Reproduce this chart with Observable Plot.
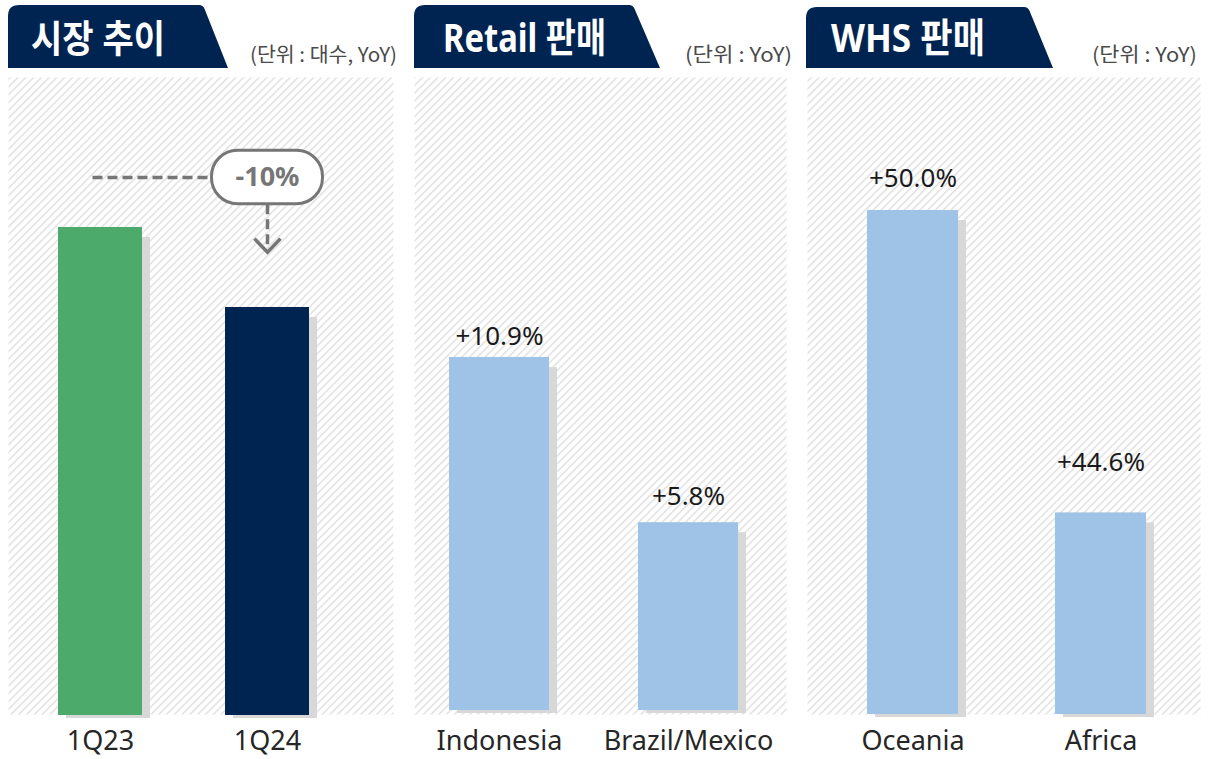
<!DOCTYPE html>
<html>
<head>
<meta charset="utf-8">
<script src="https://cdn.jsdelivr.net/npm/d3@7"></script>
<script src="https://cdn.jsdelivr.net/npm/@observablehq/plot@0.6"></script>
<style>
  body { margin: 0; background: #fff; }
  #wrap { position: relative; width: 1208px; height: 759px; overflow: hidden; background: #fff; }
  #wrap svg { position: absolute; left: 0; top: 0; }
</style>
</head>
<body>
<div id="wrap"></div>
<script>
// ---------------- data ----------------
const titles = ["시장 추이", "Retail 판매", "WHS 판매"];
const units = ["(단위 : 대수, YoY)", "(단위 : YoY)", "(단위 : YoY)"];

const marketPeriods = ["1Q23", "1Q24"];
const marketIndex = [100, 90];          // units sold, indexed (1Q23 = 100)

const retailRegions = ["Indonesia", "Brazil/Mexico"];
const retailYoY = [10.9, 5.8];

const whsRegions = ["Oceania", "Africa"];
const whsYoY = [50.0, 44.6];

// ---------------- layout / style ----------------
const W = 1208, H = 759;
const FRAME_TOP = 77, FRAME_BOTTOM = 714;
const NAVY = "#002452";
const FONT = "'Noto Sans', 'Noto Sans CJK KR', sans-serif";

const panels = [
  { id: "hatch1", cats: marketPeriods, vals: marketIndex, colors: ["#4cab6b", NAVY],
    left: 8, right: 393, xRange: [58, 309], pad: 0.497,
    yDomain: [39, 100], yRange: [715, 227], base: 39, labels: null, callout: true },
  { id: "hatch2", cats: retailRegions, vals: retailYoY, colors: ["#9fc3e6", "#9fc3e6"],
    left: 414, right: 786, xRange: [449, 738], pad: 0.471,
    yDomain: [0, 10.9], yRange: [710, 357], base: 0, labels: [21, 26] },
  { id: "hatch3", cats: whsRegions, vals: whsYoY, colors: ["#9fc3e6", "#9fc3e6"],
    left: 807, right: 1200, xRange: [867, 1146], pad: 0.516,
    yDomain: [41, 50], yRange: [714, 210], base: 41, labels: [32, 50] }
];

const fmtPct = v => (v >= 0 ? "+" : "") + v.toFixed(1) + "%";
const wrap = document.getElementById("wrap");

const chevron = {
  draw(ctx, size) {
    const r = Math.sqrt(size / Math.PI);
    ctx.moveTo(-r, -r * 1.05);
    ctx.lineTo(0, 0);
    ctx.lineTo(r, -r * 1.05);
  }
};

panels.forEach(cfg => {
  const data = cfg.cats.map((c, i) => ({ cat: c, v: cfg.vals[i], color: cfg.colors[i] }));
  const marks = [
    Plot.frame({ fill: `url(#${cfg.id})`, stroke: "none" }),
    Plot.barY(data, { x: "cat", y1: cfg.base, y2: "v", fill: "#d8d8d8", dx: 8, dy: 3, insetTop: 7 }),
    Plot.barY(data, { x: "cat", y1: cfg.base, y2: "v", fill: "color" }),
    Plot.text(data, { x: "cat", text: "cat", frameAnchor: "bottom", lineAnchor: "top", dy: 16,
      fontSize: 27, fill: "#262626" })
  ];
  if (cfg.labels) {
    data.forEach((d, i) => {
      marks.push(Plot.text([d], { x: "cat", y: "v", text: dd => fmtPct(dd.v), lineAnchor: "middle",
        dy: -cfg.labels[i], fontSize: 26, fill: "#1a1a1a", letterSpacing: "1.6px" }));
    });
  }
  if (cfg.callout) {
    const [a, b] = data;
    const change = Math.round((b.v / a.v - 1) * 100) + "%";
    const level = 106.25, pillTop = 109.6, pillBottom = 102.9, tip = 96.9;
    const grey = "#767676";
    marks.push(
      Plot.link([{ x1: a.cat, x2: b.cat }], { x1: "x1", x2: "x2", y1: level, y2: level, dx: -8,
        stroke: grey, strokeWidth: 3.5, strokeDasharray: "10,5" }),
      Plot.link([{ p: b.cat }], { x1: "p", x2: "p", y1: pillBottom, y2: tip + 0.6,
        stroke: grey, strokeWidth: 3.5, strokeDasharray: "10,5" }),
      Plot.dot([{ p: b.cat }], { x: "p", y: tip, r: 13, symbol: chevron, fill: "none",
        stroke: grey, strokeWidth: 3.5 }),
      Plot.barY([{ p: b.cat }], { x: "p", y1: pillBottom, y2: pillTop, insetLeft: -13.5, insetRight: -13.5,
        rx: 26, fill: "white", stroke: grey, strokeWidth: 3 }),
      Plot.text([{ p: b.cat, t: change }], { x: "p", y: level, text: "t", fontSize: 27, fontWeight: "bold",
        fill: grey, lineAnchor: "middle" })
    );
  }
  const svg = Plot.plot({
    width: W, height: H,
    marginLeft: cfg.left, marginRight: W - cfg.right,
    marginTop: FRAME_TOP, marginBottom: H - FRAME_BOTTOM,
    style: { background: "none", fontFamily: FONT, overflow: "visible" },
    x: { type: "band", domain: cfg.cats, range: cfg.xRange, paddingInner: cfg.pad, paddingOuter: 0,
         round: false, axis: null },
    y: { domain: cfg.yDomain, range: cfg.yRange, axis: null },
    color: { type: "identity" },
    marks
  });
  svg.insertAdjacentHTML("afterbegin",
    `<defs><pattern id="${cfg.id}" patternUnits="userSpaceOnUse" width="5.5" height="5.5" patternTransform="rotate(45)">` +
    `<line x1="0.8" y1="0" x2="0.8" y2="5.5" stroke="#dcdcdc" stroke-width="1.3"/></pattern></defs>`);
  wrap.appendChild(svg);
});

// ---------------- header tabs ----------------
const tabs = [
  { x0: 8,   xt: 203,  xb: 228,  top: 5, tx: 31,  tlen: 134, tsize: 38, ux: 397,  ulen: 147 },
  { x0: 414, xt: 633,  xb: 660,  top: 5, tx: 443, tlen: 163, tsize: 40, ux: 792,  ulen: 107 },
  { x0: 806, xt: 1028, xb: 1053, top: 7, tx: 831, tlen: 154, tsize: 40, ux: 1197, ulen: 105 }
];
const hdr = d3.create("svg").attr("width", W).attr("height", 76)
  .style("font-family", FONT);
tabs.forEach((t, i) => {
  const r = 11, bot = 68;
  hdr.append("path")
    .attr("d", `M${t.x0},${bot} V${t.top + r} Q${t.x0},${t.top} ${t.x0 + r},${t.top} H${t.xt - 4} Q${t.xt},${t.top} ${t.xt + 1.6},${t.top + 4} L${t.xb},${bot} Z`)
    .attr("fill", NAVY);
  hdr.append("text")
    .attr("x", t.tx).attr("y", 52)
    .attr("fill", "white").attr("font-weight", "bold").attr("font-size", t.tsize)
    .attr("textLength", t.tlen).attr("lengthAdjust", "spacingAndGlyphs")
    .text(titles[i]);
  hdr.append("text")
    .attr("x", t.ux).attr("y", 62).attr("text-anchor", "end")
    .attr("fill", "#4a4a4a").attr("font-size", 20)
    .attr("font-family", "'Noto Sans CJK KR', sans-serif")
    .attr("textLength", t.ulen).attr("lengthAdjust", "spacingAndGlyphs")
    .text(units[i]);
});
wrap.appendChild(hdr.node());
</script>
</body>
</html>
